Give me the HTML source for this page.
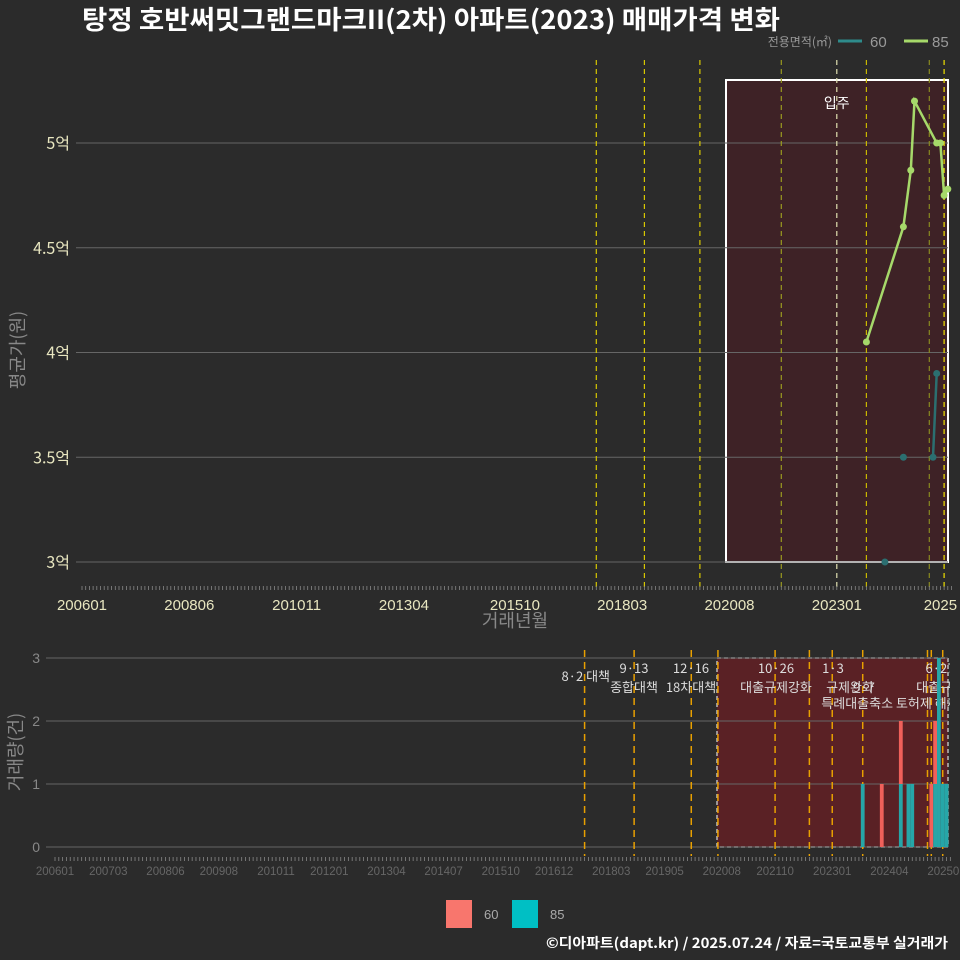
<!DOCTYPE html>
<html><head><meta charset="utf-8"><style>
html,body{margin:0;padding:0;background:#2b2b2b;}
svg{display:block;font-family:"Liberation Sans","Noto Sans CJK KR",sans-serif;}
</style></head><body>
<svg id="c" width="960" height="960" xmlns="http://www.w3.org/2000/svg">
<rect width="960" height="960" fill="#2b2b2b"/>
<text x="82" y="29" fill="#fff" font-size="26" font-weight="bold" font-family="'Noto Sans CJK KR',sans-serif" textLength="698" lengthAdjust="spacingAndGlyphs">탕정 호반써밋그랜드마크II(2차) 아파트(2023) 매매가격 변화</text>
<g>
<text x="832" y="46" fill="#999" font-size="12" text-anchor="end" font-family="'Noto Sans CJK KR',sans-serif">전용면적(㎡)</text>
<line x1="838" y1="41" x2="862" y2="41" stroke="#2e8b8b" stroke-width="3"/>
<text x="870" y="47" fill="#999" font-size="15">60</text>
<line x1="904" y1="41" x2="928" y2="41" stroke="#a6d96a" stroke-width="3"/>
<text x="932" y="47" fill="#999" font-size="15">85</text>
</g>
<g id="topg"></g>
<g id="botg"></g>
<g>
<rect x="446" y="900" width="26" height="28" fill="#f8766d"/>
<text x="484" y="919" fill="#aaa" font-size="13">60</text>
<rect x="512" y="900" width="26" height="28" fill="#00bfc4"/>
<text x="550" y="919" fill="#aaa" font-size="13">85</text>
</g>
<text x="948" y="948" fill="#fff" font-size="14" font-weight="bold" text-anchor="end" font-family="'Noto Sans CJK KR',sans-serif" textLength="402" lengthAdjust="spacingAndGlyphs">©디아파트(dapt.kr) / 2025.07.24 / 자료=국토교통부 실거래가</text>
</svg>
<script>
const priceLevels=[3,3.5,4,4.5,5];
const priceLabels=['3억','3.5억','4억','4.5억','5억'];
const xTickLabelsTop=['200601','200806','201011','201304','201510','201803','202008','202301','2025'];
const xTickMonthsTop=['200601','200806','201011','201304','201510','201803','202008','202301','202505'];
const months85=['202309','202407','202409','202410','202504','202505','202506','202507'];
const price85=[4.05,4.6,4.87,5.2,5.0,5.0,4.75,4.78];
const months60=['202402','202407','202503','202504'];
const price60=[3.0,3.5,3.5,3.9];
const policyMonths=['201708','201809','201912','202110','202301','202309','202502','202506'];
const volMonths=['202309','202402','202407','202409','202410','202503','202504','202505','202506','202507'];
const vol60=[0,1,1,0,0,1,1,0,0,0];
const vol85=[1,0,1,1,1,0,1,3,1,1];
const volLevels=[0,1,2,3];
const xTickLabelsBot=['200601','200703','200806','200908','201011','201201','201304','201407','201510','201612','201803','201905','202008','202110','202301','202404','202507'];

const NS='http://www.w3.org/2000/svg';
function mi(s){return (parseInt(s.slice(0,4))-2006)*12+parseInt(s.slice(4,6))-1;}
function el(p,t,a,txt){const e=document.createElementNS(NS,t);for(const k in a)e.setAttribute(k,a[k]);if(txt!==undefined)e.textContent=txt;p.appendChild(e);return e;}
const xT=m=>82+m*3.7, yT=v=>562-(v-3)*209.5;
const xB=m=>55+m*3.81, yB=v=>847-v*63;
const K="'Noto Sans CJK KR',sans-serif";

const topG=document.getElementById('topg');
let r=el(topG,'rect',{x:726,y:80,width:222,height:482,fill:'#3e2226',stroke:'#fff','stroke-width':2});


priceLevels.forEach((v,i)=>{
 let g=el(topG,'line',{x1:76,x2:948,y1:yT(v),y2:yT(v),stroke:'#666','stroke-width':1});
 
 
 let t=el(topG,'text',{x:70,y:yT(v)+6,fill:'#e8e6c0','font-size':16,'text-anchor':'end','font-family':K},priceLabels[i]);
 
 
});
const topCols=['#d8c800','#d8c800','#d8c800','#9a9a20','#e0e0b0','#c8b800','#8a8a20','#f0e000'];
policyMonths.forEach((m,i)=>{
 let l=el(topG,'line',{x1:xT(mi(m)),x2:xT(mi(m)),y1:60,y2:590,stroke:topCols[i],'stroke-width':1.2,'stroke-dasharray':'5,4'});
 
 
});
let ip=el(topG,'text',{x:xT(mi('202301')),y:108,fill:'#fff','font-size':14,'text-anchor':'middle','font-family':K},'입주');


for(let m=0;m<=235;m++){el(topG,'line',{x1:xT(m),x2:xT(m),y1:586,y2:590,stroke:'#888','stroke-width':0.8});}
xTickLabelsTop.forEach((s,i)=>{
 let t=el(topG,'text',{x:xT(mi(xTickMonthsTop[i])),y:610,fill:'#e8e6c0','font-size':15,'text-anchor':'middle'},s);
 
 
});
let xt=el(topG,'text',{x:515,y:627,fill:'#888','font-size':18,'text-anchor':'middle','font-family':K},'거래년월');


let yt=el(topG,'text',{x:0,y:0,fill:'#888','font-size':18,'text-anchor':'middle','font-family':K,transform:'translate(24,350) rotate(-90)'},'평균가(원)');


function series(ms,vs,col,name,lineFrom){
 const lm=ms.slice(lineFrom), lv=vs.slice(lineFrom);
 let p=el(topG,'polyline',{points:lm.map((m,i)=>xT(mi(m))+','+yT(lv[i])).join(' '),fill:'none',stroke:col,'stroke-width':2.5});
 
 
 ms.forEach((m,i)=>{let c=el(topG,'circle',{cx:xT(mi(m)),cy:yT(vs[i]),r:3.5,fill:col});
 
 });
}
series(months85,price85,'#a6d96a','series-85',0);
series(months60,price60,'#2b6f70','series-60',2);

const botG=document.getElementById('botg');
let br=el(botG,'rect',{x:717,y:658,width:231,height:189,fill:'#5a2125',stroke:'#bbb','stroke-width':1.5,'stroke-dasharray':'4,3'});


volLevels.forEach(v=>{
 let g=el(botG,'line',{x1:46,x2:948,y1:yB(v),y2:yB(v),stroke:'#666','stroke-width':1});
 
 
 let t=el(botG,'text',{x:40,y:yB(v)+5,fill:'#888','font-size':14,'text-anchor':'end'},String(v));
 
 
});
['201708','201809','201912','202007','202110','202207','202301','202309','202502','202503','202506'].forEach(m=>{
 let l=el(botG,'line',{x1:xB(mi(m)),x2:xB(mi(m)),y1:650,y2:856,stroke:'#e8a000','stroke-width':1.5,'stroke-dasharray':'7,5'});
 
 
});
const anns=[[610,681,'8·2 대책','end'],[634,673,'9·13','middle'],[634,692,'종합대책','middle'],[691,673,'12·16','middle'],[691,692,'18차대책','middle'],[776,673,'10·26','middle'],[776,692,'대출규제강화','middle'],[833,673,'1·3','middle'],[850,692,'규제완화','middle'],[864,692,'9·7','middle'],[890,708,'특례대출축소 토허제 해제','middle'],[940,673,'6·27','middle'],[940,692,'대출규제','middle']];
const clip=el(botG,'clipPath',{id:'cp'});el(clip,'rect',{x:0,y:0,width:950,height:960});
const ag=el(botG,'g',{'clip-path':'url(#cp)'});
anns.forEach(a=>{let t=el(ag,'text',{x:a[0],y:a[1],fill:'#ddd','font-size':13,'text-anchor':a[3],'font-family':K},a[2]);
 
 });
volMonths.forEach((m,i)=>{
 const x=xB(mi(m))-1.9;
 if(vol85[i]>0){let b=el(botG,'rect',{x:x,y:yB(vol85[i]),width:3.8,height:yB(0)-yB(vol85[i]),fill:'#26a6a8'});
 
 }
 if(vol60[i]>0){let b=el(botG,'rect',{x:x,y:yB(vol85[i]+vol60[i]),width:3.8,height:yB(vol85[i])-yB(vol85[i]+vol60[i]),fill:'#f0605a'});
 
 }
});
for(let m=0;m<=235;m++){el(botG,'line',{x1:xB(m),x2:xB(m),y1:857,y2:861,stroke:'#888','stroke-width':0.8});}
xTickLabelsBot.forEach(s=>{
 let t=el(botG,'text',{x:xB(mi(s)),y:875,fill:'#666','font-size':11.5,'text-anchor':'middle'},s);
 
 
});
let yb=el(botG,'text',{x:0,y:0,fill:'#888','font-size':18,'text-anchor':'middle','font-family':K,transform:'translate(22,752) rotate(-90)'},'거래량(건)');


</script>
</body></html>
